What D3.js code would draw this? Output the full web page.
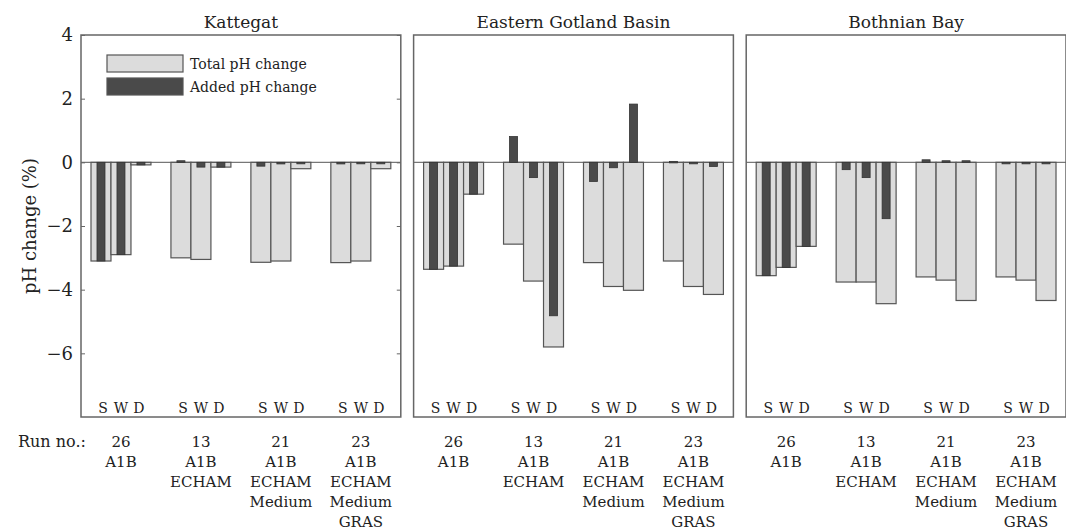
<!DOCTYPE html>
<html>
<head>
<meta charset="utf-8">
<script src="https://cdn.jsdelivr.net/npm/d3@7"></script>
<style>
body { margin: 0; background: #fff; }
svg text { font-family: "DejaVu Serif", serif; }
</style>
</head>
<body>
<div id="chart"></div>
<script>
// regions, runs and the S/W/D seasons
var regions = ["Kattegat", "Eastern Gotland Basin", "Bothnian Bay"];
var runLabels = [["26", "A1B"], ["13", "A1B", "ECHAM"], ["21", "A1B", "ECHAM", "Medium"], ["23", "A1B", "ECHAM", "Medium", "GRAS"]];
var seasons = ["S", "W", "D"];
var yTicks = [-6, -4, -2, 0, 2, 4];

// total pH change (%) per region, runs x seasons
var totalKattegat = [[-3.1, -2.9, -0.08], [-3.0, -3.05, -0.15], [-3.14, -3.1, -0.2], [-3.15, -3.1, -0.2]];
var totalGotland  = [[-3.36, -3.26, -1.0], [-2.57, -3.73, -5.8], [-3.15, -3.9, -4.02], [-3.1, -3.9, -4.15]];
var totalBothnian = [[-3.56, -3.3, -2.64], [-3.76, -3.76, -4.44], [-3.6, -3.7, -4.34], [-3.6, -3.7, -4.34]];
// added pH change (%)
var addedKattegat = [[-3.1, -2.9, -0.08], [0.05, -0.15, -0.15], [-0.12, -0.05, -0.03], [-0.05, 0, 0]];
var addedGotland  = [[-3.36, -3.26, -1.0], [0.81, -0.48, -4.82], [-0.6, -0.17, 1.83], [0.03, 0, -0.13]];
var addedBothnian = [[-3.56, -3.3, -2.64], [-0.23, -0.48, -1.77], [0.08, 0.05, 0.05], [0, 0, 0]];

var totals = [totalKattegat, totalGotland, totalBothnian];
var addeds = [addedKattegat, addedGotland, addedBothnian];

var W = 1066, H = 532;
var svg = d3.select("#chart").append("svg").attr("width", W).attr("height", H);

function txt(sel, size) {
    return sel.append("text").attr("font-size", size).attr("fill", "#222");
}

var y = d3.scaleLinear().domain([-8, 4]).range([417, 35]);
var xPanel = d3.scaleBand().domain(regions).range([81, 1066]).paddingInner(0.0385);
var xRun = d3.scaleBand().domain(d3.range(runLabels.length)).range([0, xPanel.bandwidth()])
    .paddingInner(0.25).paddingOuter(0.125);
var xSeason = d3.scaleBand().domain(seasons).range([0, xRun.bandwidth()]);

var lightFill = "#dcdcdc", darkFill = "#4a4a4a", edge = "#555";

regions.forEach(function(reg, ri) {
    var g = svg.append("g").attr("transform", "translate(" + xPanel(reg) + ",0)");
    var pw = xPanel.bandwidth();

    txt(g, 17).attr("x", pw / 2).attr("y", 28).attr("text-anchor", "middle").text(reg);

    // zero line
    g.append("line").attr("x1", 0).attr("x2", pw).attr("y1", y(0)).attr("y2", y(0))
        .attr("stroke", "#777").attr("stroke-width", 1.2);

    runLabels.forEach(function(run, k) {
        var gx = xRun(k);
        seasons.forEach(function(s, j) {
            var bx = gx + xSeason(s), bw = xSeason.bandwidth();
            var tv = totals[ri][k][j], av = addeds[ri][k][j];
            g.append("rect").attr("x", bx).attr("width", bw)
                .attr("y", y(Math.max(0, tv))).attr("height", Math.abs(y(tv) - y(0)))
                .attr("fill", lightFill).attr("stroke", edge).attr("stroke-width", 1.2);
            var dw = bw * 0.4;
            g.append("rect").attr("x", bx + (bw - dw) / 2).attr("width", dw)
                .attr("y", y(Math.max(0, av))).attr("height", Math.max(1.5, Math.abs(y(av) - y(0))))
                .attr("fill", darkFill).attr("stroke", "#333").attr("stroke-width", 0.8);
            txt(g, 14).attr("x", bx + bw / 2 + (j - 1) * -2).attr("y", 413)
                .attr("text-anchor", "middle").text(s);
        });
        run.forEach(function(line, li) {
            txt(g, 15).attr("x", gx + xRun.bandwidth() / 2).attr("y", 447 + li * 20)
                .attr("text-anchor", "middle").text(line);
        });
    });

    // panel frame
    g.append("rect").attr("x", 0).attr("y", y(4)).attr("width", pw).attr("height", y(-8) - y(4))
        .attr("fill", "none").attr("stroke", "#666").attr("stroke-width", 1.5);

    if (ri === 0) {
        var axL = d3.axisLeft(y).tickValues(yTicks).tickSize(-4).tickPadding(8).tickFormat(d3.format("d"));
        var ga = g.append("g").call(axL);
        ga.select(".domain").remove();
        ga.selectAll("line").attr("stroke", "#666");
        ga.selectAll("text").attr("font-size", 18).attr("fill", "#222");
        var axR = d3.axisRight(y).tickValues(yTicks).tickSize(-4).tickFormat("");
        var gr = g.append("g").attr("transform", "translate(" + pw + ",0)").call(axR);
        gr.select(".domain").remove();
        gr.selectAll("line").attr("stroke", "#666");

        // legend
        var leg = [["Total pH change", lightFill], ["Added pH change", darkFill]];
        leg.forEach(function(d, i) {
            g.append("rect").attr("x", 26).attr("y", 55 + i * 23).attr("width", 76).attr("height", 17)
                .attr("fill", d[1]).attr("stroke", edge).attr("stroke-width", 1.2);
            txt(g, 14).attr("x", 109).attr("y", 69 + i * 23).text(d[0]);
        });
    }
});

txt(svg, 18).attr("transform", "translate(36," + y(-2) + ") rotate(-90)")
    .attr("text-anchor", "middle").text("pH change (%)");
txt(svg, 16).attr("x", 18).attr("y", 447).text("Run no.:");
</script>
</body>
</html>
